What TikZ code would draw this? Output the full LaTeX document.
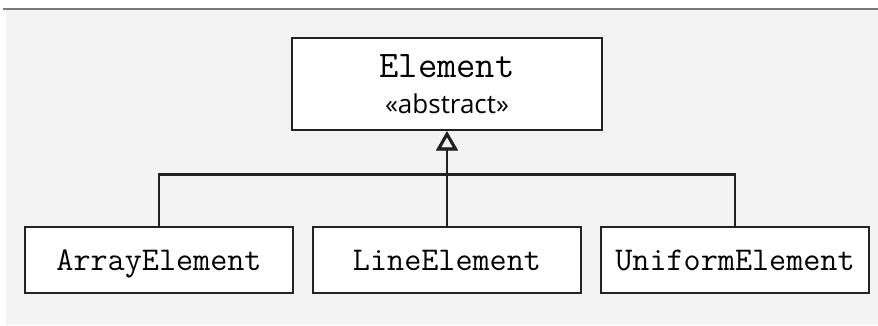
\documentclass[tikz,border=0pt]{standalone}
\usepackage{fontspec}
\newfontfamily\stereofont{Open Sans}
\usetikzlibrary{arrows.meta}
\definecolor{panelgray}{HTML}{F3F3F3}
\definecolor{rulegray}{HTML}{7A7A7A}
\definecolor{inkgray}{HTML}{222222}

\begin{document}
\begin{tikzpicture}
      [x=1pt,y=1pt,line width=2.7pt,
      box/.style={draw=inkgray,fill=white,inner sep=0pt},
      class/.style={box,minimum width=268pt,minimum height=66pt,
        text height=21pt,text depth=0pt,
        font=\ttfamily\fontsize{33.2}{36}\selectfont},
      abstractclass/.style={box,minimum width=310pt,minimum height=92pt,
        align=center,font=\stereofont\fontsize{26}{36}\selectfont},
      level 1/.style={sibling distance=288pt,level distance=176pt},
      edge from parent/.style={draw=inkgray,
        {Triangle[open,length=19pt,width=21pt]}-},
      edge from parent path={(\tikzparentnode.south) -- ++(0,-43pt)
        -| (\tikzchildnode.north)}]
      \useasboundingbox (0,0) rectangle (878,325);
      \fill[panelgray] (6,0) rectangle (878,315);
      \draw[rulegray,line width=1.2pt] (3,316) -- (878,316);
      \node[abstractclass] (element) at (447,241)
        {{\ttfamily\fontsize{37.5}{36}\selectfont Element}\\«abstract»}
      child {
        node[class] (arrayelement) {ArrayElement}
      }
      child {
        node[class] (lineelement) {LineElement}
      }
      child {
        node[class] (uniformelement) {UniformElement}
      };
\end{tikzpicture}
\end{document}
